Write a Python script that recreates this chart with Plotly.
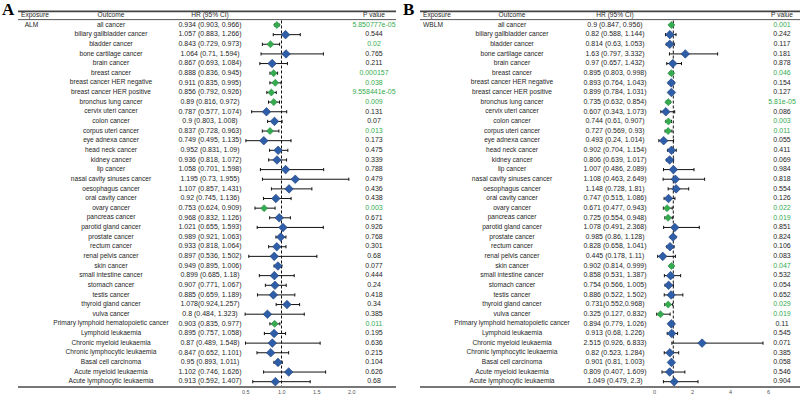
import plotly.graph_objects as go

# ---------------- data ----------------
outcomes = [
    "all cancer", "biliary gallbladder cancer", "bladder cancer", "bone cartilage cancer",
    "brain cancer", "breast cancer", "breast cancer HER negative", "breast cancer HER positive",
    "bronchus lung cancer", "cervix uteri cancer", "colon cancer", "corpus uteri cancer",
    "eye adnexa cancer", "head neck cancer", "kidney cancer", "lip cancer",
    "nasal cavity sinuses cancer", "oesophagus cancer", "oral cavity cancer", "ovary cancer",
    "pancreas cancer", "parotid gland cancer", "prostate cancer", "rectum cancer",
    "renal pelvis cancer", "skin cancer", "small intestine cancer", "stomach cancer",
    "testis cancer", "thyroid gland cancer", "vulva cancer",
    "Primary lymphoid hematopoietic cancer", "Lymphoid leukaemia", "Chronic myeloid leukaemia",
    "Chronic lymphocytic leukaemia", "Basal cell carcinoma", "Acute myeloid leukaemia",
    "Acute lymphocytic leukaemia",
]

# Panel A: ALM
hr_a = [0.934, 1.057, 0.843, 1.064, 0.867, 0.888, 0.911, 0.856, 0.89, 0.787, 0.9, 0.837,
        0.749, 0.952, 0.936, 1.058, 1.195, 1.107, 0.92, 0.753, 0.968, 1.021, 0.989, 0.933,
        0.897, 0.949, 0.899, 0.907, 0.885, 1.078, 0.8, 0.903, 0.895, 0.87, 0.847, 0.95,
        1.102, 0.913]
lo_a = [0.903, 0.883, 0.729, 0.71, 0.693, 0.836, 0.835, 0.792, 0.816, 0.577, 0.803, 0.728,
        0.495, 0.831, 0.818, 0.701, 0.73, 0.857, 0.745, 0.624, 0.832, 0.655, 0.921, 0.818,
        0.536, 0.895, 0.685, 0.771, 0.659, 0.924, 0.484, 0.835, 0.757, 0.489, 0.652, 0.893,
        0.746, 0.592]
hi_a = [0.966, 1.266, 0.973, 1.594, 1.084, 0.945, 0.995, 0.926, 0.972, 1.074, 1.008, 0.963,
        1.135, 1.09, 1.072, 1.598, 1.955, 1.431, 1.136, 0.909, 1.126, 1.593, 1.063, 1.064,
        1.502, 1.006, 1.18, 1.067, 1.189, 1.257, 1.323, 0.977, 1.058, 1.548, 1.101, 1.011,
        1.626, 1.407]
ci_text_a = [
    "0.934 (0.903, 0.966)", "1.057 (0.883, 1.266)", "0.843 (0.729, 0.973)", "1.064 (0.71, 1.594)",
    "0.867 (0.693, 1.084)", "0.888 (0.836, 0.945)", "0.911 (0.835, 0.995)", "0.856 (0.792, 0.926)",
    "0.89 (0.816, 0.972)", "0.787 (0.577, 1.074)", "0.9 (0.803, 1.008)", "0.837 (0.728, 0.963)",
    "0.749 (0.495, 1.135)", "0.952 (0.831, 1.09)", "0.936 (0.818, 1.072)", "1.058 (0.701, 1.598)",
    "1.195 (0.73, 1.955)", "1.107 (0.857, 1.431)", "0.92 (0.745, 1.136)", "0.753 (0.624, 0.909)",
    "0.968 (0.832, 1.126)", "1.021 (0.655, 1.593)", "0.989 (0.921, 1.063)", "0.933 (0.818, 1.064)",
    "0.897 (0.536, 1.502)", "0.949 (0.895, 1.006)", "0.899 (0.685, 1.18)", "0.907 (0.771, 1.067)",
    "0.885 (0.659, 1.189)", "1.078(0.924,1.257)", "0.8 (0.484, 1.323)", "0.903 (0.835, 0.977)",
    "0.895 (0.757, 1.058)", "0.87 (0.489, 1.548)", "0.847 (0.652, 1.101)", "0.95 (0.893, 1.011)",
    "1.102 (0.746, 1.626)", "0.913 (0.592, 1.407)",
]
p_a = ["5.850777e-05", "0.544", "0.02", "0.765", "0.211", "0.000157", "0.038", "9.558441e-05",
       "0.009", "0.131", "0.07", "0.013", "0.173", "0.475", "0.339", "0.788", "0.479", "0.436",
       "0.438", "0.003", "0.671", "0.926", "0.768", "0.301", "0.68", "0.077", "0.444", "0.24",
       "0.418", "0.34", "0.385", "0.011", "0.195", "0.636", "0.215", "0.104", "0.626", "0.68"]

# Panel B: WBLM
hr_b = [0.9, 0.82, 0.814, 1.63, 0.97, 0.895, 0.893, 0.899, 0.735, 0.607, 0.744, 0.727,
        0.493, 0.902, 0.806, 1.007, 1.108, 1.148, 0.747, 0.671, 0.725, 1.078, 0.985, 0.828,
        0.445, 0.902, 0.858, 0.754, 0.886, 0.731, 0.325, 0.894, 0.913, 2.515, 0.82, 0.901,
        0.809, 1.049]
lo_b = [0.847, 0.588, 0.63, 0.797, 0.657, 0.803, 0.764, 0.784, 0.632, 0.343, 0.61, 0.569,
        0.24, 0.704, 0.639, 0.486, 0.463, 0.728, 0.515, 0.477, 0.554, 0.491, 0.86, 0.658,
        0.178, 0.814, 0.531, 0.566, 0.522, 0.552, 0.127, 0.779, 0.68, 0.926, 0.523, 0.81,
        0.407, 0.479]
hi_b = [0.956, 1.144, 1.053, 3.332, 1.432, 0.998, 1.043, 1.031, 0.854, 1.073, 0.907, 0.93,
        1.014, 1.154, 1.017, 2.089, 2.649, 1.81, 1.086, 0.943, 0.948, 2.368, 1.128, 1.041,
        1.11, 0.999, 1.387, 1.005, 1.502, 0.968, 0.832, 1.026, 1.226, 6.833, 1.284, 1.003,
        1.609, 2.3]
ci_text_b = [
    "0.9 (0.847, 0.956)", "0.82 (0.588, 1.144)", "0.814 (0.63, 1.053)", "1.63 (0.797, 3.332)",
    "0.97 (0.657, 1.432)", "0.895 (0.803, 0.998)", "0.893 (0.764, 1.043)", "0.899 (0.784, 1.031)",
    "0.735 (0.632, 0.854)", "0.607 (0.343, 1.073)", "0.744 (0.61, 0.907)", "0.727 (0.569, 0.93)",
    "0.493 (0.24, 1.014)", "0.902 (0.704, 1.154)", "0.806 (0.639, 1.017)", "1.007 (0.486, 2.089)",
    "1.108 (0.463, 2.649)", "1.148 (0.728, 1.81)", "0.747 (0.515, 1.086)", "0.671 (0.477, 0.943)",
    "0.725 (0.554, 0.948)", "1.078 (0.491, 2.368)", "0.985 (0.86, 1.128)", "0.828 (0.658, 1.041)",
    "0.445 (0.178, 1.11)", "0.902 (0.814, 0.999)", "0.858 (0.531, 1.387)", "0.754 (0.566, 1.005)",
    "0.886 (0.522, 1.502)", "0.731(0.552,0.968)", "0.325 (0.127, 0.832)", "0.894 (0.779, 1.026)",
    "0.913 (0.68, 1.226)", "2.515 (0.926, 6.833)", "0.82 (0.523, 1.284)", "0.901 (0.81, 1.003)",
    "0.809 (0.407, 1.609)", "1.049 (0.479, 2.3)",
]
p_b = ["0.001", "0.242", "0.117", "0.181", "0.878", "0.046", "0.154", "0.127", "5.81e-05",
       "0.086", "0.003", "0.011", "0.055", "0.411", "0.069", "0.984", "0.818", "0.554",
       "0.126", "0.022", "0.019", "0.851", "0.824", "0.106", "0.083", "0.047", "0.532",
       "0.054", "0.652", "0.029", "0.019", "0.11", "0.545", "0.071", "0.385", "0.058",
       "0.546", "0.904"]

ticks_a = [0.5, 1.0, 1.5, 2.0]
tick_labels_a = ["0.5", "1.0", "1.5", "2.0"]
ticks_b = [0, 2, 4, 6]
tick_labels_b = ["0", "2", "4", "6"]

# ---------------- style ----------------
W, H = 800, 396
FONT = "Liberation Sans, Arial, sans-serif"
FS_OUT = 6.6
FS_NUM = 7.0
TXT = "#262626"
GREEN = "#35AC4F"
BLUE = "#2F5EA9"
BLUE_EDGE = "#1C3A73"

n = len(outcomes)
rows = list(range(n))
ROW0, PITCH = 25.0, 9.64          # first row centre (px) and row pitch (px)
y_top = -ROW0 / PITCH
y_bot = (H - ROW0) / PITCH


def pix_y(py):
    return (py - ROW0) / PITCH


fig = go.Figure()

A_px1, A_scale = 281.5, 70.5          # HR=1 at 281.5px, 70.5 px per unit
B_px0, B_scale = 654.3, 19.0          # HR=0 at 654.3px, 19 px per unit
xa_range = [1 - A_px1 / A_scale, 1 + (400 - A_px1) / A_scale]
xb_range = [(400 - B_px0) / B_scale, (800 - B_px0) / B_scale]
B_CLIP = (763 - B_px0) / B_scale      # right end of drawn CI in panel B


def add_forest(hr, lo, hi, p, xaxis, clip=None):
    for sig in (False, True):
        idx = [i for i in range(n) if (float(p[i]) < 0.05) == sig]
        xs = [hr[i] for i in idx]
        up = [(min(hi[i], clip) if clip else hi[i]) - hr[i] for i in idx]
        dn = [hr[i] - lo[i] for i in idx]
        fig.add_trace(go.Scatter(
            x=xs, y=[rows[i] for i in idx], xaxis=xaxis, yaxis="y", mode="markers",
            marker=dict(symbol="diamond", size=5.4 if sig else 6.6,
                        color=GREEN if sig else BLUE,
                        line=dict(width=0.6, color="#2A8A40" if sig else BLUE_EDGE)),
            error_x=dict(type="data", symmetric=False, array=up, arrayminus=dn,
                         color="#111111", thickness=1, width=1.6),
            cliponaxis=False, showlegend=False, hoverinfo="skip"))


def text_col(xpx, texts, size, colors=None, ys=None):
    fig.add_trace(go.Scatter(
        x=[xpx] * len(texts), y=ys if ys is not None else rows, xaxis="x3", yaxis="y",
        mode="text", text=texts, textposition="middle center",
        textfont=dict(family=FONT, size=size, color=colors if colors else TXT),
        cliponaxis=False, showlegend=False, hoverinfo="skip"))


def panel(off, label, exposure, ci_text, p, hr_cx, p_cx, out_cx, exp_cx, line_x0, line_x1, xref, ticks, tlabels):
    text_col(exp_cx, [exposure], FS_OUT, ys=[0])
    text_col(out_cx, outcomes, FS_OUT)
    text_col(hr_cx, ci_text, FS_NUM)
    pcols = [GREEN if float(v) < 0.05 else TXT for v in p]
    text_col(p_cx, p, FS_NUM, colors=pcols)
    text_col(out_cx, ["Outcome"], FS_OUT, ys=[-1])
    text_col(hr_cx, ["HR (95% CI)"], FS_OUT, ys=[-1])
    text_col(p_cx, ["P value"], FS_OUT, ys=[-1])
    fig.add_annotation(x=line_x0 + 1, y=-1, xref="x3", yref="y", text="Exposure", showarrow=False,
                       xanchor="left", yanchor="middle", font=dict(family=FONT, size=FS_OUT, color=TXT))
    fig.add_annotation(x=off + 8, y=pix_y(9.5), xref="x3", yref="y", text="<b>%s</b>" % label,
                       showarrow=False, xanchor="center", yanchor="middle",
                       font=dict(family="Liberation Serif", size=17, color="#000000"))
    # table rules
    fig.add_shape(type="line", xref="x3", yref="y", x0=line_x0, x1=line_x1,
                  y0=pix_y(11.3), y1=pix_y(11.3), line=dict(color="#444444", width=1.8))
    fig.add_shape(type="line", xref="x3", yref="y", x0=line_x0, x1=line_x1,
                  y0=pix_y(19.6), y1=pix_y(19.6), line=dict(color="#444444", width=0.9))
    fig.add_shape(type="line", xref="x3", yref="y", x0=line_x0, x1=line_x1,
                  y0=pix_y(387), y1=pix_y(387), line=dict(color="#777777", width=2))
    # reference line at HR = 1
    fig.add_shape(type="line", xref=xref, yref="y", x0=1, x1=1, layer="below",
                  y0=pix_y(20.5), y1=pix_y(386), line=dict(color="#111111", width=1, dash="3px,2px"))
    for t, tl in zip(ticks, tlabels):
        fig.add_annotation(x=t, y=pix_y(391.8), xref=xref, yref="y", text=tl, showarrow=False,
                           xanchor="center", yanchor="middle",
                           font=dict(family=FONT, size=5.5, color="#555555"))


panel(0, "A", "ALM", ci_text_a, p_a, hr_cx=210, p_cx=374, out_cx=111, exp_cx=31.5,
      line_x0=18, line_x1=396, xref="x", ticks=ticks_a, tlabels=tick_labels_a)
panel(400, "B", "WBLM", ci_text_b, p_b, hr_cx=615, p_cx=782, out_cx=512, exp_cx=433,
      line_x0=420, line_x1=800, xref="x2", ticks=ticks_b, tlabels=tick_labels_b)

add_forest(hr_a, lo_a, hi_a, p_a, "x")
add_forest(hr_b, lo_b, hi_b, p_b, "x2", clip=B_CLIP)

hidden = dict(visible=False, fixedrange=True, showgrid=False, zeroline=False)
fig.update_layout(
    width=W, height=H, margin=dict(l=0, r=0, t=0, b=0),
    paper_bgcolor="white", plot_bgcolor="rgba(0,0,0,0)",
    xaxis=dict(domain=[0, 0.5], range=xa_range, anchor="y", **hidden),
    xaxis2=dict(domain=[0.5, 1], range=xb_range, anchor="y", **hidden),
    xaxis3=dict(domain=[0, 1], range=[0, W], anchor="y", **hidden),
    yaxis=dict(domain=[0, 1], range=[y_bot, y_top], **hidden),
)

fig.write_html("out.html")
